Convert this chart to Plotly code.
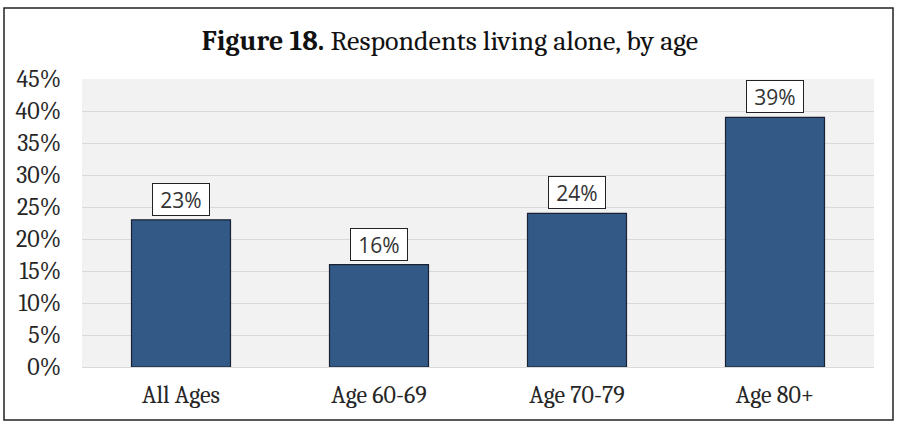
import plotly.graph_objects as go

categories = ["All Ages", "Age 60-69", "Age 70-79", "Age 80+"]
values = [0.23, 0.16, 0.24, 0.39]
labels = ["23%", "16%", "24%", "39%"]
tick_vals = [0, 0.05, 0.10, 0.15, 0.20, 0.25, 0.30, 0.35, 0.40, 0.45]
tick_text = ["0%", "5%", "10%", "15%", "20%", "25%", "30%", "35%", "40%", "45%"]

SERIF = "Cambria, Caladea, 'DejaVu Serif', serif"

fig = go.Figure(go.Bar(
    x=categories, y=values,
    marker=dict(color="#335a87", line=dict(color="#1b2233", width=1.2)),
    hoverinfo="skip",
))

for c, v, t in zip(categories, values, labels):
    fig.add_annotation(
        x=c, y=v, text=t, showarrow=False, yanchor="bottom", yshift=4,
        width=54, height=29,
        font=dict(family="'Open Sans', 'Noto Sans', sans-serif", size=21, color="#333333"),
        bgcolor="white", bordercolor="#222222", borderwidth=1, borderpad=1,
    )

L, R, T, B = 82, 26, 79, 59
W, H = 900, 426
pw, ph = W - L - R, H - T - B
fig.add_shape(type="rect", xref="paper", yref="paper",
              x0=(4 - L) / pw, x1=(893 - L) / pw,
              y0=(H - B - 420) / ph, y1=(H - B - 8) / ph,
              line=dict(color="#222222", width=1.5), fillcolor="rgba(0,0,0,0)", layer="below")

fig.update_layout(
    width=W, height=H,
    margin=dict(l=L, r=R, t=T, b=B),
    paper_bgcolor="white", plot_bgcolor="#f2f2f2",
    bargap=0.5,
    showlegend=False,
    title=dict(text="<b>Figure 18.</b> Respondents living alone, by age",
               x=0.5, xref="container", xanchor="center",
               y=1 - 40 / H, yref="container", yanchor="middle",
               font=dict(family=SERIF, size=28, color="#111111")),
    yaxis=dict(range=[0, 0.45], tickvals=tick_vals, ticktext=tick_text,
               showgrid=True, gridcolor="#d9d9d9", gridwidth=1,
               zeroline=True, zerolinecolor="#d9d9d9", zerolinewidth=1,
               showline=False, ticklabelstandoff=20,
               tickfont=dict(family=SERIF, size=24, color="#262626")),
    xaxis=dict(showgrid=False, showline=False, ticklabelstandoff=11,
               tickfont=dict(family=SERIF, size=24, color="#262626")),
)

fig.write_html("out.html", config={"displayModeBar": False},
               post_script="document.body.style.margin='0';")
